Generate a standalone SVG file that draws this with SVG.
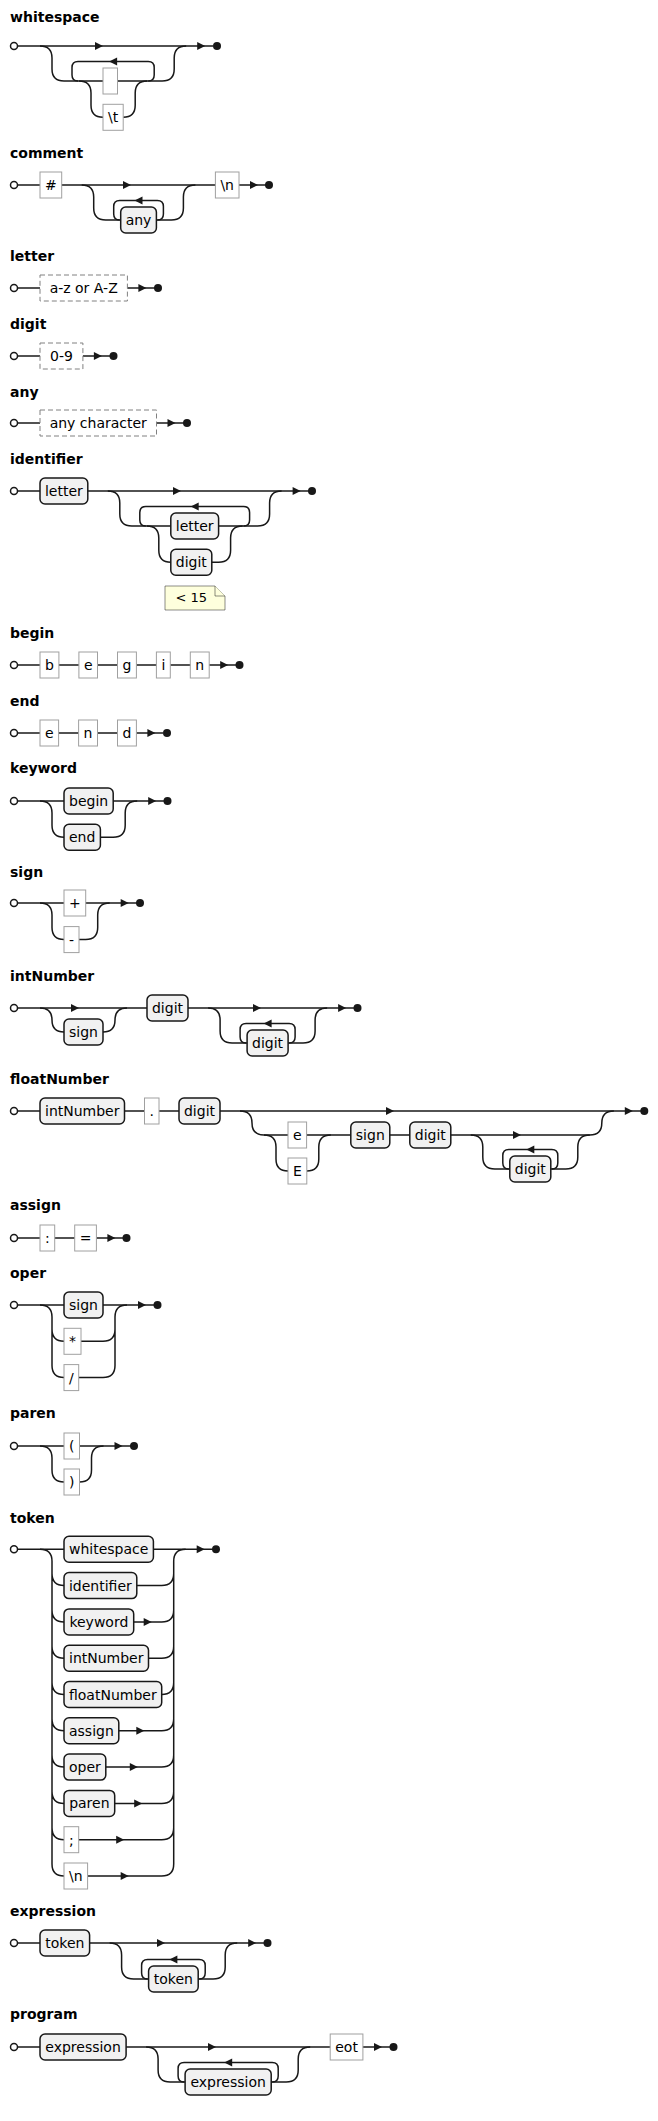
<svg xmlns="http://www.w3.org/2000/svg" xmlns:xlink="http://www.w3.org/1999/xlink" width="658" height="2121" viewBox="0 0 658 2121">
<style>
.t{font-family:"DejaVu Sans",Verdana,sans-serif;font-size:14px;fill:#000}
.c{text-anchor:middle}
.h{font-weight:bold}
.ln{fill:none;stroke:#181818;stroke-width:1.5}
.nt{fill:#F1F1F1;stroke:#181818;stroke-width:1.5}
.tm{fill:#fff;stroke:#a0a0a0;stroke-width:1}
.sp{fill:#fff;stroke:#808080;stroke-width:1;stroke-dasharray:5 3}
.st{fill:#fff;stroke:#181818;stroke-width:1.5}
.en{fill:#181818}
.note{fill:#FEFFDD;stroke:#181818;stroke-width:0.5}
</style>
<defs>
<path id="ar" d="M0,0 L-8,-4 L-8,4 Z" fill="#181818"/>
<path id="al" d="M0,0 L8,-4 L8,4 Z" fill="#181818"/>
</defs>
<rect width="658" height="2121" fill="#fff"/>

<g id="titles" class="t h">
<text x="10" y="22">whitespace</text>
<text x="10" y="158">comment</text>
<text x="10" y="261">letter</text>
<text x="10" y="329">digit</text>
<text x="10" y="397">any</text>
<text x="10" y="464">identifier</text>
<text x="10" y="638">begin</text>
<text x="10" y="706">end</text>
<text x="10" y="773">keyword</text>
<text x="10" y="877">sign</text>
<text x="10" y="981">intNumber</text>
<text x="10" y="1084">floatNumber</text>
<text x="10" y="1210">assign</text>
<text x="10" y="1278">oper</text>
<text x="10" y="1418">paren</text>
<text x="10" y="1523">token</text>
<text x="10" y="1916">expression</text>
<text x="10" y="2019">program</text>
</g>

<g id="connectors">
<!-- whitespace -->
<path class="ln" d="M18,46 H213"/>
<path class="ln" d="M40,46 Q52,46 52,58 L52,69 Q52,81 64,81 H162.2 Q174.2,81 174.2,69 L174.2,58 Q174.2,46 186.2,46"/>
<path class="ln" d="M78,81 Q72,81 72,75 L72,67.5 Q72,61.5 78,61.5 H148.2 Q154.2,61.5 154.2,67.5 L154.2,75 Q154.2,81 148.2,81"/>
<path class="ln" d="M79,81 Q91,81 91,93 L91,105.3 Q91,117.3 103,117.3 M123.2,117.3 Q135.2,117.3 135.2,105.3 L135.2,93 Q135.2,81 147.2,81"/>
<use href="#ar" x="103" y="46"/><use href="#al" x="109.1" y="61.5"/><use href="#ar" x="205.2" y="46"/>
<circle class="st" cx="14" cy="46" r="3.5"/><circle class="en" cx="217" cy="46" r="4"/>
<!-- comment -->
<path class="ln" d="M18,185 H266"/>
<path class="ln" d="M81.7,185 Q93.7,185 93.7,197 L93.7,208 Q93.7,220 105.7,220 H171.4 Q183.4,220 183.4,208 L183.4,197 Q183.4,185 195.4,185"/>
<path class="ln" d="M119.7,220 Q113.7,220 113.7,214 L113.7,206.5 Q113.7,200.5 119.7,200.5 H157.4 Q163.4,200.5 163.4,206.5 L163.4,214 Q163.4,220 157.4,220"/>
<use href="#ar" x="131" y="185"/><use href="#al" x="134.5" y="200.5"/><use href="#ar" x="258" y="185"/>
<circle class="st" cx="14" cy="185" r="3.5"/><circle class="en" cx="269" cy="185" r="4"/>
<!-- letter -->
<path class="ln" d="M18,288 H155"/>
<use href="#ar" x="146.4" y="288"/>
<circle class="st" cx="14" cy="288" r="3.5"/><circle class="en" cx="158" cy="288" r="4"/>
<!-- digit -->
<path class="ln" d="M18,356 H110"/>
<use href="#ar" x="101.9" y="356"/>
<circle class="st" cx="14" cy="356" r="3.5"/><circle class="en" cx="113.5" cy="356" r="4"/>
<!-- any -->
<path class="ln" d="M18,423 H184"/>
<use href="#ar" x="175.5" y="423"/>
<circle class="st" cx="14" cy="423" r="3.5"/><circle class="en" cx="187" cy="423" r="4"/>
<!-- identifier -->
<path class="ln" d="M18,491 H309"/>
<path class="ln" d="M107.8,491 Q119.8,491 119.8,503 L119.8,514 Q119.8,526 131.8,526 H257.6 Q269.6,526 269.6,514 L269.6,503 Q269.6,491 281.6,491"/>
<path class="ln" d="M145.8,526 Q139.8,526 139.8,520 L139.8,512.5 Q139.8,506.5 145.8,506.5 H243.6 Q249.6,506.5 249.6,512.5 L249.6,520 Q249.6,526 243.6,526"/>
<path class="ln" d="M146.8,526 Q158.8,526 158.8,538 L158.8,550.3 Q158.8,562.3 170.8,562.3 M211.8,562.3 H218.6 Q230.6,562.3 230.6,550.3 L230.6,538 Q230.6,526 242.6,526"/>
<use href="#ar" x="181" y="491"/><use href="#al" x="190.7" y="506.5"/><use href="#ar" x="300.6" y="491"/>
<circle class="st" cx="14" cy="491" r="3.5"/><circle class="en" cx="312" cy="491" r="4"/>
<!-- begin -->
<path class="ln" d="M18,665 H236"/>
<use href="#ar" x="228.2" y="665"/>
<circle class="st" cx="14" cy="665" r="3.5"/><circle class="en" cx="239.5" cy="665" r="4"/>
<!-- end -->
<path class="ln" d="M18,733 H163"/>
<use href="#ar" x="155.4" y="733"/>
<circle class="st" cx="14" cy="733" r="3.5"/><circle class="en" cx="167" cy="733" r="4"/>
<!-- keyword -->
<path class="ln" d="M18,801 H164"/>
<path class="ln" d="M40,801 Q52,801 52,813 L52,825.3 Q52,837.3 64,837.3 M100.4,837.3 H113.2 Q125.2,837.3 125.2,825.3 L125.2,813 Q125.2,801 137.2,801"/>
<use href="#ar" x="156.2" y="801"/>
<circle class="st" cx="14" cy="801" r="3.5"/><circle class="en" cx="167.5" cy="801" r="4"/>
<!-- sign -->
<path class="ln" d="M18,903 H137"/>
<path class="ln" d="M40,903 Q52,903 52,915 L52,927.6 Q52,939.6 64,939.6 M79,939.6 H85.7 Q97.7,939.6 97.7,927.6 L97.7,915 Q97.7,903 109.7,903"/>
<use href="#ar" x="128.7" y="903"/>
<circle class="st" cx="14" cy="903" r="3.5"/><circle class="en" cx="140" cy="903" r="4"/>
<!-- intNumber -->
<path class="ln" d="M18,1008 H354"/>
<path class="ln" d="M40,1008 Q52,1008 52,1020 Q52,1032 64,1032 M103,1032 Q115,1032 115,1020 Q115,1008 127,1008"/>
<path class="ln" d="M208.1,1008 Q220.1,1008 220.1,1020 L220.1,1031 Q220.1,1043 232.1,1043 H303.1 Q315.1,1043 315.1,1031 L315.1,1020 Q315.1,1008 327.1,1008"/>
<path class="ln" d="M246.1,1043 Q240.1,1043 240.1,1037 L240.1,1029.5 Q240.1,1023.5 246.1,1023.5 H289.1 Q295.1,1023.5 295.1,1029.5 L295.1,1037 Q295.1,1043 289.1,1043"/>
<use href="#ar" x="79" y="1008"/><use href="#ar" x="261" y="1008"/><use href="#al" x="263.6" y="1023.5"/><use href="#ar" x="346.1" y="1008"/>
<circle class="st" cx="14" cy="1008" r="3.5"/><circle class="en" cx="357.5" cy="1008" r="4"/>
<!-- floatNumber -->
<path class="ln" d="M18,1111 H641"/>
<path class="ln" d="M240,1111 Q252,1111 252,1123 Q252,1135 264,1135 H589.8 Q601.8,1135 601.8,1123 Q601.8,1111 613.8,1111"/>
<path class="ln" d="M264,1135 Q276,1135 276,1147 L276,1159 Q276,1171 288,1171 M306.8,1171 Q318.8,1171 318.8,1159 L318.8,1147 Q318.8,1135 330.8,1135"/>
<path class="ln" d="M470.8,1135 Q482.8,1135 482.8,1147 L482.8,1157 Q482.8,1169 494.8,1169 H565.8 Q577.8,1169 577.8,1157 L577.8,1147 Q577.8,1135 589.8,1135"/>
<path class="ln" d="M508.8,1169 Q502.8,1169 502.8,1163 L502.8,1155.5 Q502.8,1149.5 508.8,1149.5 H551.8 Q557.8,1149.5 557.8,1155.5 L557.8,1163 Q557.8,1169 551.8,1169"/>
<use href="#ar" x="394" y="1111"/><use href="#ar" x="521" y="1135"/><use href="#al" x="526.3" y="1149.5"/><use href="#ar" x="632.8" y="1111"/>
<circle class="st" cx="14" cy="1111" r="3.5"/><circle class="en" cx="644.3" cy="1111" r="4"/>
<!-- assign -->
<path class="ln" d="M18,1238 H124"/>
<use href="#ar" x="115.4" y="1238"/>
<circle class="st" cx="14" cy="1238" r="3.5"/><circle class="en" cx="126.5" cy="1238" r="4"/>
<!-- oper -->
<path class="ln" d="M18,1305 H154"/>
<path class="ln" d="M40,1305 Q52,1305 52,1317 L52,1365.6 Q52,1377.6 64,1377.6 M52,1329.3 Q52,1341.3 64,1341.3"/>
<path class="ln" d="M81,1341.3 H103 Q115,1341.3 115,1329.3 M78.7,1377.6 H103 Q115,1377.6 115,1365.6 L115,1317 Q115,1305 127,1305"/>
<use href="#ar" x="146" y="1305"/>
<circle class="st" cx="14" cy="1305" r="3.5"/><circle class="en" cx="157.5" cy="1305" r="4"/>
<!-- paren -->
<path class="ln" d="M18,1446 H131"/>
<path class="ln" d="M40,1446 Q52,1446 52,1458 L52,1470 Q52,1482 64,1482 M79.5,1482 Q91.5,1482 91.5,1470 L91.5,1458 Q91.5,1446 103.5,1446"/>
<use href="#ar" x="122.5" y="1446"/>
<circle class="st" cx="14" cy="1446" r="3.5"/><circle class="en" cx="134" cy="1446" r="4"/>
<!-- token -->
<path class="ln" d="M18,1549.3 H213"/>
<path class="ln" d="M40,1549.3 Q52,1549.3 52,1561.3 L52,1864 Q52,1876 64,1876 M52,1573.6 Q52,1585.6 64,1585.6 M52,1609.9 Q52,1621.9 64,1621.9 M52,1646.2 Q52,1658.2 64,1658.2 M52,1682.5 Q52,1694.5 64,1694.5 M52,1718.8 Q52,1730.8 64,1730.8 M52,1755.1 Q52,1767.1 64,1767.1 M52,1791.4 Q52,1803.4 64,1803.4 M52,1827.7 Q52,1839.7 64,1839.7"/>
<path class="ln" d="M87.6,1876 H161.7 Q173.7,1876 173.7,1864 L173.7,1561.3 Q173.7,1549.3 185.7,1549.3 M136.8,1585.6 H161.7 Q173.7,1585.6 173.7,1573.6 M133.7,1621.9 H161.7 Q173.7,1621.9 173.7,1609.9 M148.5,1658.2 H161.7 Q173.7,1658.2 173.7,1646.2 M161.7,1694.5 Q173.7,1694.5 173.7,1682.5 M118.8,1730.8 H161.7 Q173.7,1730.8 173.7,1718.8 M105.8,1767.1 H161.7 Q173.7,1767.1 173.7,1755.1 M114.7,1803.4 H161.7 Q173.7,1803.4 173.7,1791.4 M78.7,1839.7 H161.7 Q173.7,1839.7 173.7,1827.7"/>
<use href="#ar" x="151.7" y="1621.9"/><use href="#ar" x="144.3" y="1730.8"/><use href="#ar" x="137.8" y="1767.1"/><use href="#ar" x="142.2" y="1803.4"/><use href="#ar" x="124.2" y="1839.7"/><use href="#ar" x="128.7" y="1876"/>
<use href="#ar" x="204.7" y="1549.3"/>
<circle class="st" cx="14" cy="1549.3" r="3.5"/><circle class="en" cx="216" cy="1549.3" r="4"/>
<!-- expression -->
<path class="ln" d="M18,1943 H264"/>
<path class="ln" d="M109.6,1943 Q121.6,1943 121.6,1955 L121.6,1967 Q121.6,1979 133.6,1979 H213.2 Q225.2,1979 225.2,1967 L225.2,1955 Q225.2,1943 237.2,1943"/>
<path class="ln" d="M147.6,1979 Q141.6,1979 141.6,1973 L141.6,1965.5 Q141.6,1959.5 147.6,1959.5 H199.2 Q205.2,1959.5 205.2,1965.5 L205.2,1973 Q205.2,1979 199.2,1979"/>
<use href="#ar" x="165" y="1943"/><use href="#al" x="169.4" y="1959.5"/><use href="#ar" x="256.2" y="1943"/>
<circle class="st" cx="14" cy="1943" r="3.5"/><circle class="en" cx="267.5" cy="1943" r="4"/>
<!-- program -->
<path class="ln" d="M18,2047 H390"/>
<path class="ln" d="M146.1,2047 Q158.1,2047 158.1,2059 L158.1,2070 Q158.1,2082 170.1,2082 H286.2 Q298.2,2082 298.2,2070 L298.2,2059 Q298.2,2047 310.2,2047"/>
<path class="ln" d="M184.1,2082 Q178.1,2082 178.1,2076 L178.1,2068.5 Q178.1,2062.5 184.1,2062.5 H272.2 Q278.2,2062.5 278.2,2068.5 L278.2,2076 Q278.2,2082 272.2,2082"/>
<use href="#ar" x="216" y="2047"/><use href="#al" x="224.2" y="2062.5"/><use href="#ar" x="382" y="2047"/>
<circle class="st" cx="14" cy="2047" r="3.5"/><circle class="en" cx="393.5" cy="2047" r="4"/>
</g>

<g id="nodes" class="t">
<!-- whitespace -->
<g id="ws-space"><rect class="tm" x="103" y="68" width="14.5" height="26"/></g>
<g id="ws-tab"><rect class="tm" x="103" y="104.3" width="20.2" height="26"/><text class="c" x="113.1" y="122.3">\t</text></g>
<!-- comment -->
<g id="cm-hash"><rect class="tm" x="40" y="172" width="21.7" height="26"/><text class="c" x="50.85" y="190">#</text></g>
<g id="cm-any"><rect class="nt" x="120.7" y="207" width="35.7" height="26" rx="5"/><text class="c" x="138.55" y="225">any</text></g>
<g id="cm-nl"><rect class="tm" x="215.4" y="172" width="23.6" height="26"/><text class="c" x="227.2" y="190">\n</text></g>
<!-- letter / digit / any -->
<g id="lt-range"><rect class="sp" x="40" y="275" width="87.4" height="26"/><text class="c" x="83.7" y="293">a-z or A-Z</text></g>
<g id="dg-range"><rect class="sp" x="40" y="343" width="42.9" height="26"/><text class="c" x="61.45" y="361">0-9</text></g>
<g id="an-char"><rect class="sp" x="40" y="410" width="116.5" height="26"/><text class="c" x="98.25" y="428">any character</text></g>
<!-- identifier -->
<g id="id-letter"><rect class="nt" x="40" y="478" width="47.8" height="26" rx="5"/><text class="c" x="63.9" y="496">letter</text></g>
<g id="id-letter2"><rect class="nt" x="170.8" y="513" width="47.8" height="26" rx="5"/><text class="c" x="194.7" y="531">letter</text></g>
<g id="id-digit"><rect class="nt" x="170.8" y="549.3" width="41" height="26" rx="5"/><text class="c" x="191.3" y="567.3">digit</text></g>
<g id="id-note"><path class="note" d="M165,586 H215 L225,596 V610 H165 Z"/><path class="note" d="M215,586 V596 H225" fill="none"/><text x="175.5" y="602" style="font-size:13px">&lt; 15</text></g>
<!-- begin -->
<g id="bg-b"><rect class="tm" x="40" y="652" width="18.9" height="26"/><text class="c" x="49.45" y="670">b</text></g>
<g id="bg-e"><rect class="tm" x="78.9" y="652" width="18.6" height="26"/><text class="c" x="88.2" y="670">e</text></g>
<g id="bg-g"><rect class="tm" x="117.5" y="652" width="18.9" height="26"/><text class="c" x="126.95" y="670">g</text></g>
<g id="bg-i"><rect class="tm" x="156.4" y="652" width="13.9" height="26"/><text class="c" x="163.35" y="670">i</text></g>
<g id="bg-n"><rect class="tm" x="190.3" y="652" width="18.9" height="26"/><text class="c" x="199.75" y="670">n</text></g>
<!-- end -->
<g id="en-e"><rect class="tm" x="40" y="720" width="18.6" height="26"/><text class="c" x="49.3" y="738">e</text></g>
<g id="en-n"><rect class="tm" x="78.6" y="720" width="18.9" height="26"/><text class="c" x="88.05" y="738">n</text></g>
<g id="en-d"><rect class="tm" x="117.5" y="720" width="18.9" height="26"/><text class="c" x="126.95" y="738">d</text></g>
<!-- keyword -->
<g id="kw-begin"><rect class="nt" x="64" y="788" width="49.2" height="26" rx="5"/><text class="c" x="88.6" y="806">begin</text></g>
<g id="kw-end"><rect class="nt" x="64" y="824.3" width="36.4" height="26" rx="5"/><text class="c" x="82.2" y="842.3">end</text></g>
<!-- sign -->
<g id="sg-plus"><rect class="tm" x="64" y="890" width="21.7" height="26"/><text class="c" x="74.85" y="908">+</text></g>
<g id="sg-minus"><rect class="tm" x="64" y="926.6" width="15" height="26"/><text class="c" x="71.5" y="944.6">-</text></g>
<!-- intNumber -->
<g id="in-sign"><rect class="nt" x="64" y="1019" width="39" height="26" rx="5"/><text class="c" x="83.5" y="1037">sign</text></g>
<g id="in-digit"><rect class="nt" x="147" y="995" width="41" height="26" rx="5"/><text class="c" x="167.5" y="1013">digit</text></g>
<g id="in-digit2"><rect class="nt" x="247.1" y="1030" width="41" height="26" rx="5"/><text class="c" x="267.6" y="1048">digit</text></g>
<!-- floatNumber -->
<g id="fn-int"><rect class="nt" x="40" y="1098" width="84.5" height="26" rx="5"/><text class="c" x="82.25" y="1116">intNumber</text></g>
<g id="fn-dot"><rect class="tm" x="144.5" y="1098" width="14.5" height="26"/><text class="c" x="151.75" y="1116">.</text></g>
<g id="fn-digit"><rect class="nt" x="179" y="1098" width="41" height="26" rx="5"/><text class="c" x="199.5" y="1116">digit</text></g>
<g id="fn-e"><rect class="tm" x="288" y="1122" width="18.6" height="26"/><text class="c" x="297.3" y="1140">e</text></g>
<g id="fn-E"><rect class="tm" x="288" y="1158" width="18.8" height="26"/><text class="c" x="297.4" y="1176">E</text></g>
<g id="fn-sign"><rect class="nt" x="350.8" y="1122" width="39" height="26" rx="5"/><text class="c" x="370.3" y="1140">sign</text></g>
<g id="fn-digit2"><rect class="nt" x="409.8" y="1122" width="41" height="26" rx="5"/><text class="c" x="430.3" y="1140">digit</text></g>
<g id="fn-digit3"><rect class="nt" x="509.8" y="1156" width="41" height="26" rx="5"/><text class="c" x="530.3" y="1174">digit</text></g>
<!-- assign -->
<g id="as-colon"><rect class="tm" x="40" y="1225" width="14.7" height="26"/><text class="c" x="47.35" y="1243">:</text></g>
<g id="as-eq"><rect class="tm" x="74.7" y="1225" width="21.7" height="26"/><text class="c" x="85.55" y="1243">=</text></g>
<!-- oper -->
<g id="op-sign"><rect class="nt" x="64" y="1292" width="39" height="26" rx="5"/><text class="c" x="83.5" y="1310">sign</text></g>
<g id="op-mul"><rect class="tm" x="64" y="1328.3" width="17" height="26"/><text class="c" x="72.5" y="1346.3">*</text></g>
<g id="op-div"><rect class="tm" x="64" y="1364.6" width="14.7" height="26"/><text class="c" x="71.35" y="1382.6">/</text></g>
<!-- paren -->
<g id="pr-open"><rect class="tm" x="64" y="1433" width="15.5" height="26"/><text class="c" x="71.75" y="1451">(</text></g>
<g id="pr-close"><rect class="tm" x="64" y="1469" width="15.5" height="26"/><text class="c" x="71.75" y="1487">)</text></g>
<!-- token -->
<g id="tk-ws"><rect class="nt" x="64" y="1536.3" width="89.4" height="26" rx="5"/><text class="c" x="108.7" y="1554.3">whitespace</text></g>
<g id="tk-id"><rect class="nt" x="64" y="1572.6" width="72.8" height="26" rx="5"/><text class="c" x="100.4" y="1590.6">identifier</text></g>
<g id="tk-kw"><rect class="nt" x="64" y="1608.9" width="69.7" height="26" rx="5"/><text class="c" x="98.85" y="1626.9">keyword</text></g>
<g id="tk-int"><rect class="nt" x="64" y="1645.2" width="84.5" height="26" rx="5"/><text class="c" x="106.25" y="1663.2">intNumber</text></g>
<g id="tk-float"><rect class="nt" x="64" y="1681.5" width="97.7" height="26" rx="5"/><text class="c" x="112.85" y="1699.5">floatNumber</text></g>
<g id="tk-assign"><rect class="nt" x="64" y="1717.8" width="54.8" height="26" rx="5"/><text class="c" x="91.4" y="1735.8">assign</text></g>
<g id="tk-oper"><rect class="nt" x="64" y="1754.1" width="41.8" height="26" rx="5"/><text class="c" x="84.9" y="1772.1">oper</text></g>
<g id="tk-paren"><rect class="nt" x="64" y="1790.4" width="50.7" height="26" rx="5"/><text class="c" x="89.35" y="1808.4">paren</text></g>
<g id="tk-semi"><rect class="tm" x="64" y="1826.7" width="14.7" height="26"/><text class="c" x="71.35" y="1844.7">;</text></g>
<g id="tk-nl"><rect class="tm" x="64" y="1863" width="23.6" height="26"/><text class="c" x="75.8" y="1881">\n</text></g>
<!-- expression -->
<g id="ex-token"><rect class="nt" x="40" y="1930" width="49.6" height="26" rx="5"/><text class="c" x="64.8" y="1948">token</text></g>
<g id="ex-token2"><rect class="nt" x="148.6" y="1966" width="49.6" height="26" rx="5"/><text class="c" x="173.4" y="1984">token</text></g>
<!-- program -->
<g id="pg-expr"><rect class="nt" x="40" y="2034" width="86.1" height="26" rx="5"/><text class="c" x="83.05" y="2052">expression</text></g>
<g id="pg-expr2"><rect class="nt" x="185.1" y="2069" width="86.1" height="26" rx="5"/><text class="c" x="228.15" y="2087">expression</text></g>
<g id="pg-eot"><rect class="tm" x="330.2" y="2034" width="32.7" height="26"/><text class="c" x="346.55" y="2052">eot</text></g>
</g>
</svg>
